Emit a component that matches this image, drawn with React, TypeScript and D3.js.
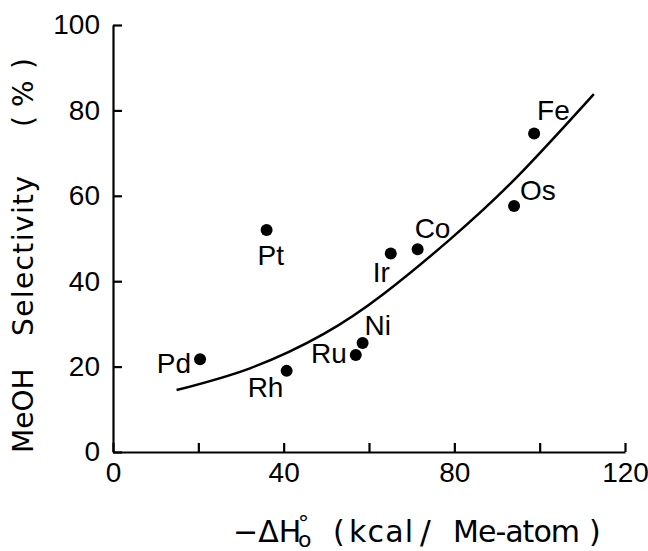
import React, { useEffect, useRef } from "react";
import * as d3 from "d3";

// metals and their values
const metals = ["Pd", "Rh", "Pt", "Ru", "Ni", "Ir", "Co", "Os", "Fe"];
const heatOfFormation = [20.4, 40.7, 36.0, 56.9, 58.5, 65.1, 71.4, 94.0, 98.7];
const selectivity = [21.7, 19.0, 52.0, 22.7, 25.5, 46.5, 47.5, 57.6, 74.6];

// hand drawn trend curve
const fitX = [14.9, 32.1, 49.3, 63.4, 79.0, 94.6, 112.7];
const fitY = [14.5, 19.6, 27.6, 37.0, 49.8, 64.3, 83.8];

const xTicks = [0, 20, 40, 60, 80, 100, 120];
const xTickLabels = ["0", "", "40", "", "80", "", "120"];
const yTicks = [0, 20, 40, 60, 80, 100];
const yTickLabels = ["0", "20", "40", "60", "80", "100"];

// where each metal's name sits relative to its dot
const labelPlacement: Record<string, [number, number, string]> = {
  Pd: [-9, 14, "end"],
  Rh: [-39, 26, "start"],
  Pt: [-9, 35, "start"],
  Ru: [-9, 8, "end"],
  Ni: [2, -8, "start"],
  Ir: [-18, 29, "start"],
  Co: [-3, -11, "start"],
  Os: [6, -6, "start"],
  Fe: [3, -13, "start"],
};

const FONT = "'Liberation Sans', Arial, sans-serif";
const TITLE_FONT = "'DejaVu Sans', sans-serif";

export default function App() {
  const svgRef = useRef<SVGSVGElement | null>(null);

  useEffect(() => {
    const svg = d3.select(svgRef.current);
    svg.selectAll("*").remove();

    const x = d3.scaleLinear().domain([0, 120]).range([113, 625]);
    const y = d3.scaleLinear().domain([0, 100]).range([452, 25]);

    // X axis
    const gx = svg
      .append("g")
      .attr("transform", `translate(0, ${y(0)})`)
      .call(
        d3
          .axisBottom(x)
          .tickValues(xTicks)
          .tickSize(-9)
          .tickSizeOuter(0)
          .tickPadding(10)
          .tickFormat((_, i) => xTickLabels[i])
      );

    // Y axis
    const gy = svg
      .append("g")
      .attr("transform", `translate(${x(0)}, 0)`)
      .call(
        d3
          .axisLeft(y)
          .tickValues(yTicks)
          .tickSize(-9)
          .tickSizeOuter(0)
          .tickPadding(13)
          .tickFormat((_, i) => yTickLabels[i])
      );

    [gx, gy].forEach((g) => {
      g.attr("font-family", FONT).attr("font-size", 28);
      g.selectAll("path, line").attr("stroke", "#000").attr("stroke-width", 2.2);
      g.selectAll("text").attr("fill", "#000");
    });

    // trend curve
    const pts = fitX.map((v, i) => [v, fitY[i]] as [number, number]);
    svg
      .append("path")
      .attr(
        "d",
        d3
          .line<[number, number]>()
          .x((d) => x(d[0]))
          .y((d) => y(d[1]))
          .curve(d3.curveNatural)(pts)
      )
      .attr("fill", "none")
      .attr("stroke", "#000")
      .attr("stroke-width", 2.5);

    // dots and names
    metals.forEach((m, i) => {
      const cx = x(heatOfFormation[i]);
      const cy = y(selectivity[i]);
      svg.append("circle").attr("cx", cx).attr("cy", cy).attr("r", 6).attr("fill", "#000");
      const [dx, dy, anchor] = labelPlacement[m];
      svg
        .append("text")
        .attr("x", cx + dx)
        .attr("y", cy + dy)
        .attr("text-anchor", anchor)
        .attr("font-family", FONT)
        .attr("font-size", 28)
        .text(m);
    });

    // y title, written bottom to top
    const yt = svg
      .append("g")
      .attr("transform", "translate(33, 0) rotate(-90)")
      .attr("font-family", TITLE_FONT)
      .attr("font-size", 28);
    yt.append("text").attr("x", -453).text("MeOH");
    yt.append("text").attr("x", -336).attr("textLength", 160).text("Selectivity");
    yt.append("text").attr("x", -127).text("(");
    yt.append("text").attr("x", -107).text("%");
    yt.append("text").attr("x", -69).text(")");

    // x title
    const xt = svg.append("g").attr("font-family", TITLE_FONT).attr("font-size", 30);
    const dh = xt.append("text").attr("x", 233).attr("y", 542);
    dh.append("tspan").text("−ΔH");
    dh.append("tspan").attr("x", 298).attr("y", 531).attr("font-size", 22).text("°");
    dh.append("tspan").attr("x", 298).attr("y", 547).attr("font-size", 22).text("o");
    xt.append("text").attr("x", 349).attr("y", 542).attr("textLength", 64).text("kcal");
    xt.append("text").attr("x", 333).attr("y", 542).text("(");
    xt.append("text").attr("x", 420).attr("y", 543).attr("font-size", 32).text("/");
    xt.append("text").attr("x", 453).attr("y", 542).attr("textLength", 127).text("Me-atom");
    xt.append("text").attr("x", 589).attr("y", 542).text(")");
  }, []);

  return (
    <svg
      ref={svgRef}
      width={648}
      height={551}
      style={{ position: "absolute", left: 0, top: 0, background: "#fff" }}
    />
  );
}
